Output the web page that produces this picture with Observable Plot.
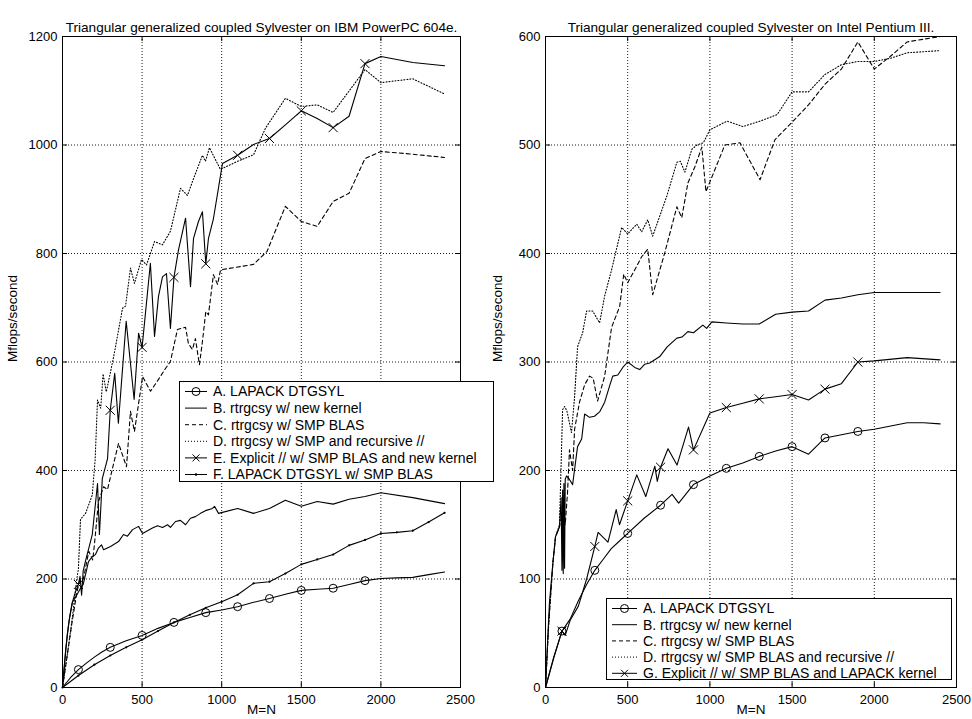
<!DOCTYPE html>
<html><head><meta charset="utf-8">
<script src="https://cdn.jsdelivr.net/npm/d3@7"></script>
<script src="https://cdn.jsdelivr.net/npm/@observablehq/plot@0.6"></script>
<style>
body{margin:0;background:#fff;}
#wrap{position:relative;width:972px;height:719px;font-family:"Liberation Sans",Arial,sans-serif;}
#wrap > *{position:absolute;top:0;}
</style></head><body><div id="wrap"></div>
<script>
// ---------- tick labels ----------
const xTicks = [0, 500, 1000, 1500, 2000, 2500];
const yTicksIBM = [0, 200, 400, 600, 800, 1000, 1200];
const yTicksP3 = [0, 100, 200, 300, 400, 500, 600];
const markN = [100, 300, 500, 700, 900, 1100, 1300, 1500, 1700, 1900];

const titleIBM = "Triangular generalized coupled Sylvester on IBM PowerPC 604e.";
const titleP3 = "Triangular generalized coupled Sylvester on Intel Pentium III.";
const yLabel = "Mflops/second";
const xLabel = "M=N";

const legendIBM = ["A. LAPACK DTGSYL", "B. rtrgcsy w/ new kernel", "C. rtrgcsy w/ SMP BLAS",
  "D. rtrgcsy w/ SMP and recursive //", "E. Explicit // w/ SMP BLAS and new kernel", "F. LAPACK DTGSYL w/ SMP BLAS"];
const legendP3 = ["A. LAPACK DTGSYL", "B. rtrgcsy w/ new kernel", "C. rtrgcsy w/ SMP BLAS",
  "D. rtrgcsy w/ SMP BLAS and recursive //", "G. Explicit // w/ SMP BLAS and LAPACK kernel"];

// ---------- IBM PowerPC 604e series [M=N, Mflops] ----------
const ibmA = [[0,0],[50,18],[100,33],[150,45],[200,56],[250,66],[300,74],[400,86],[500,96],[600,109],[700,120],[800,129],[900,138],[1000,143],[1100,149],[1200,157],[1300,164],[1400,172],[1500,179],[1600,181],[1700,183],[1800,190],[1900,197],[2000,201],[2100,202],[2200,203],[2300,208],[2400,213]];
const ibmB = [[0,0],[15,50],[30,98],[45,130],[63,158],[80,165],[94,173],[113,183],[130,190],[150,215],[163,232],[187,241],[207,245],[226,257],[245,263],[258,254],[302,260],[352,269],[383,282],[408,279],[440,291],[478,297],[503,284],[565,294],[597,298],[628,295],[660,300],[678,295],[710,306],[741,308],[773,300],[804,312],[835,315],[867,321],[898,326],[942,330],[955,334],[980,321],[1100,330],[1200,321],[1300,330],[1400,345],[1500,334],[1600,343],[1700,338],[1800,347],[1900,352],[2000,359],[2200,350],[2400,339]];
const ibmC = [[0,0],[30,60],[60,120],[90,175],[110,200],[132,201],[165,251],[190,235],[201,265],[226,343],[258,370],[283,365],[314,404],[352,450],[402,407],[427,509],[452,472],[503,573],[553,546],[603,568],[647,588],[678,601],[722,660],[773,664],[791,634],[816,623],[835,643],[860,595],[880,640],[900,693],[917,687],[948,761],[974,743],[993,770],[1100,775],[1200,780],[1285,804],[1400,887],[1500,859],[1600,850],[1700,896],[1800,911],[1900,975],[2000,988],[2200,983],[2400,977]];
const ibmD = [[0,0],[30,60],[60,125],[90,200],[100,219],[113,310],[145,321],[187,355],[205,420],[220,530],[240,515],[255,578],[275,545],[302,582],[328,620],[377,699],[396,703],[427,773],[452,745],[496,789],[528,779],[578,822],[628,816],[678,841],[741,920],[785,907],[823,938],[879,981],[898,970],[923,995],[992,955],[1100,970],[1200,982],[1275,1031],[1400,1086],[1500,1071],[1600,1074],[1700,1060],[1900,1139],[2000,1115],[2200,1122],[2400,1094]];
const ibmE = [[0,0],[20,70],[40,120],[60,155],[80,175],[100,190],[110,205],[120,170],[130,215],[150,240],[163,254],[187,282],[220,376],[232,282],[250,385],[283,422],[300,511],[328,579],[351,487],[400,675],[450,531],[478,653],[500,627],[552,782],[578,647],[603,721],[628,757],[653,763],[678,662],[700,756],[729,807],[773,865],[804,739],[823,828],[854,859],[879,877],[900,781],[917,828],[948,864],[1005,966],[1100,981],[1200,1001],[1300,1012],[1400,1037],[1500,1063],[1600,1049],[1700,1032],[1800,1053],[1900,1150],[2000,1163],[2200,1152],[2400,1146]];
const ibmF = [[0,0],[100,22],[200,42],[300,59],[400,74],[500,88],[600,104],[700,120],[800,134],[900,147],[1000,158],[1100,171],[1200,192],[1300,195],[1400,210],[1500,227],[1600,236],[1700,245],[1800,262],[1900,272],[2000,284],[2100,286],[2200,289],[2300,305],[2400,322]];

// ---------- Intel Pentium III series [M=N, Mflops] ----------
const p3A = [[0,0],[50,27],[100,52],[150,63],[200,80],[250,95],[300,108],[350,118],[400,128],[450,135],[500,142],[600,156],[700,168],[770,178],[810,170],[900,187],[1000,195],[1100,202],[1200,207],[1300,213],[1400,218],[1500,222],[1600,215],[1700,230],[1800,233],[1900,236],[2000,238],[2100,241],[2200,244],[2300,244],[2400,243]];
const p3B = [[0,0],[12,40],[24,78],[45,115],[61,139],[85,148],[95,175],[100,108],[104,182],[108,105],[112,188],[116,110],[120,192],[128,195],[145,192],[165,187],[177,201],[195,222],[220,229],[238,252],[268,249],[298,250],[329,254],[360,263],[390,278],[409,287],[440,288],[470,295],[500,300],[543,295],[573,293],[604,298],[634,299],[695,305],[740,314],[799,322],[830,323],[866,328],[900,327],[957,334],[980,331],[1012,337],[1100,336],[1200,335],[1300,335],[1400,344],[1500,346],[1600,347],[1700,357],[1800,359],[1900,362],[2000,364],[2200,364],[2400,364]];
const p3C = [[0,0],[20,60],[45,115],[61,139],[85,148],[100,160],[120,150],[134,180],[146,219],[165,200],[177,238],[207,263],[238,279],[268,287],[290,285],[317,264],[360,287],[402,332],[451,351],[476,381],[500,373],[543,385],[585,397],[622,404],[652,362],[726,401],[799,443],[829,433],[866,465],[909,480],[951,498],[976,457],[1043,482],[1091,500],[1183,502],[1305,468],[1396,505],[1500,521],[1600,537],[1700,556],[1800,570],[1900,595],[2000,570],[2100,582],[2200,595],[2400,600]];
const p3D = [[0,0],[20,60],[45,115],[61,139],[85,150],[104,256],[116,259],[130,255],[158,235],[177,268],[195,314],[226,327],[250,347],[287,347],[329,336],[360,361],[402,385],[463,424],[500,418],[555,427],[585,420],[622,431],[652,416],[738,453],[799,484],[820,485],[848,475],[890,496],[921,500],[960,502],[1000,514],[1104,522],[1201,517],[1305,522],[1409,528],[1500,549],[1600,549],[1700,565],[1800,574],[1900,577],[2000,577],[2100,580],[2200,585],[2400,587]];
const p3G = [[0,0],[50,28],[100,52],[120,48],[150,62],[200,75],[250,100],[300,130],[320,143],[380,134],[430,164],[450,150],[500,172],[555,196],[610,176],[665,204],[680,190],[700,203],[745,220],[800,205],[870,240],[900,219],[1000,253],[1100,258],[1200,262],[1300,266],[1400,268],[1500,270],[1600,265],[1700,275],[1800,280],[1900,300],[2000,301],[2200,304],[2400,302]];

// ---------- styles ----------
const DASH = "4,3", DOT = "1,2";
const FONT = '"Liberation Sans", Arial, Helvetica, sans-serif';
const H = 719, MT = 36, MB = 32;

function panel(o) {
  const innerH = H - MT - MB, innerW = o.width - o.ml - o.mr;
  const X = d => d[0], Y = d => d[1];
  const marks = [
    Plot.gridX(xTicks.slice(1, -1), {stroke: "black", strokeOpacity: 1, strokeDasharray: DOT, strokeWidth: 0.9}),
    Plot.gridY(o.yTicks.slice(1, -1), {stroke: "black", strokeOpacity: 1, strokeDasharray: DOT, strokeWidth: 0.9}),
    Plot.tickX(xTicks, {x: d => d, insetTop: innerH - 5, stroke: "black"}),
    Plot.tickX(xTicks, {x: d => d, insetBottom: innerH - 5, stroke: "black"}),
    Plot.tickY(o.yTicks, {y: d => d, insetRight: innerW - 5, stroke: "black"}),
    Plot.tickY(o.yTicks, {y: d => d, insetLeft: innerW - 5, stroke: "black"})
  ];
  for (const s of o.series) {
    marks.push(Plot.line(s.data, {x: X, y: Y, stroke: "black", strokeWidth: 1.1, strokeDasharray: s.dash || null}));
    if (s.marker === "circle")
      marks.push(Plot.dot(s.data.filter(d => markN.includes(d[0])), {x: X, y: Y, r: 4, stroke: "black", fill: "none", strokeWidth: 1}));
    if (s.marker === "times")
      marks.push(Plot.dot(s.data.filter(d => markN.includes(d[0])), {x: X, y: Y, r: 4.2, symbol: "times", stroke: "black", strokeWidth: 1}));
    if (s.marker === "dot")
      marks.push(Plot.dot(s.data, {x: X, y: Y, r: 1.1, fill: "black"}));
  }
  marks.push(
    Plot.frame({stroke: "black", strokeWidth: 1}),
    Plot.axisX(xTicks, {tickSize: 0, tickPadding: 7, label: null, tickFormat: d => String(d), fontSize: 13}),
    Plot.axisY(o.yTicks, {tickSize: 0, tickPadding: 5, label: null, tickFormat: d => String(d), fontSize: 13}),
    Plot.text([o.title], {text: d => d, frameAnchor: "top", dy: -14, fontSize: 13.6}),
    Plot.text([yLabel], {text: d => d, frameAnchor: "left", dx: -o.yLabOff, rotate: -90, fontSize: 13.5}),
    Plot.text([xLabel], {text: d => d, frameAnchor: "bottom", dy: 26, fontSize: 13.5})
  );
  return Plot.plot({
    width: o.width, height: H,
    marginLeft: o.ml, marginRight: o.mr, marginTop: MT, marginBottom: MB,
    x: {domain: [0, 2500]}, y: {domain: [0, o.yMax]},
    style: {fontFamily: FONT, fontSize: "13px", color: "black", background: "transparent", overflow: "visible"},
    marks
  });
}

function legend(entries, spec) {
  const svg = d3.create("svg").attr("width", spec.w + 2).attr("height", spec.h + 2)
    .style("position", "absolute").style("left", spec.x + "px").style("top", spec.y + "px")
    .style("font-family", FONT).style("font-size", "14px");
  svg.append("rect").attr("x", 0.5).attr("y", 0.5).attr("width", spec.w).attr("height", spec.h)
    .attr("fill", "white").attr("stroke", "black");
  entries.forEach((e, i) => {
    const y = spec.y0 + i * spec.dy;
    svg.append("line").attr("x1", spec.s0).attr("x2", spec.s1).attr("y1", y).attr("y2", y)
      .attr("stroke", "black").attr("stroke-dasharray", e.dash || null);
    const cx = (spec.s0 + spec.s1) / 2;
    if (e.marker === "circle") svg.append("circle").attr("cx", cx).attr("cy", y).attr("r", 4).attr("fill", "none").attr("stroke", "black");
    if (e.marker === "times") svg.append("path").attr("d", `M${cx-3.5},${y-3.5}L${cx+3.5},${y+3.5}M${cx-3.5},${y+3.5}L${cx+3.5},${y-3.5}`).attr("stroke", "black");
    if (e.marker === "dot") svg.append("circle").attr("cx", cx).attr("cy", y).attr("r", 1.3).attr("fill", "black");
    svg.append("text").attr("x", spec.tx).attr("y", y).attr("dy", "0.35em").text(e.label);
  });
  return svg.node();
}

const wrap = document.getElementById("wrap");

const left = panel({
  width: 490, ml: 62, mr: 30, yMax: 1200, yTicks: yTicksIBM, title: titleIBM, yLabOff: 50,
  series: [
    {data: ibmA, marker: "circle"}, {data: ibmB}, {data: ibmC, dash: DASH}, {data: ibmD, dash: DOT},
    {data: ibmE, marker: "times"}, {data: ibmF, marker: "dot"}
  ]
});
left.style.left = "0px";
wrap.appendChild(left);

const right = panel({
  width: 482, ml: 55, mr: 16, yMax: 600, yTicks: yTicksP3, title: titleP3, yLabOff: 48,
  series: [
    {data: p3A, marker: "circle"}, {data: p3B}, {data: p3C, dash: DASH}, {data: p3D, dash: DOT},
    {data: p3G, marker: "times"}
  ]
});
right.style.left = "490px";
wrap.appendChild(right);

const styles = [{marker: "circle"}, {}, {dash: DASH}, {dash: DOT}, {marker: "times"}, {marker: "dot"}];
wrap.appendChild(legend(legendIBM.map((l, i) => ({label: l, ...styles[i]})),
  {x: 179, y: 381, w: 314, h: 100, y0: 10.5, dy: 16.6, s0: 6, s1: 28, tx: 34}));
wrap.appendChild(legend(legendP3.map((l, i) => ({label: l, ...styles[i]})),
  {x: 606, y: 598, w: 345, h: 81, y0: 10.5, dy: 16.2, s0: 6, s1: 31, tx: 37}));
</script></body></html>
